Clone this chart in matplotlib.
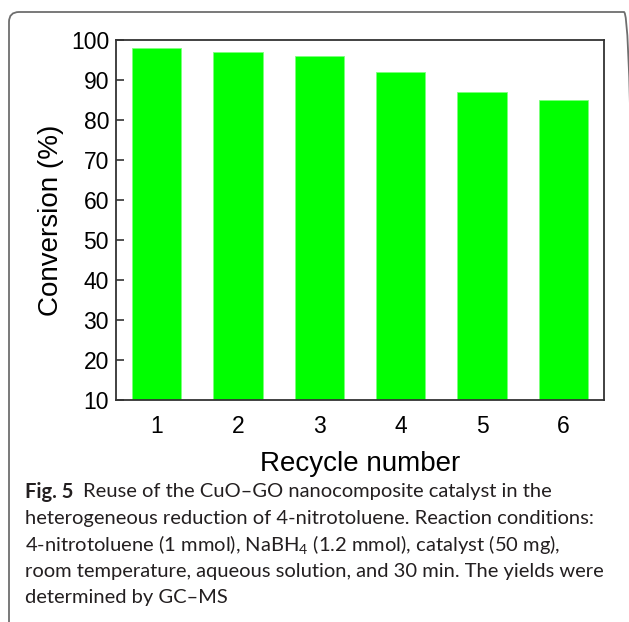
import matplotlib
matplotlib.use("Agg")
import matplotlib.pyplot as plt
from matplotlib.patches import FancyBboxPatch

plt.rcParams['font.family'] = ['Liberation Sans', 'DejaVu Sans']
plt.rcParams['mathtext.fontset'] = 'custom'
plt.rcParams['mathtext.rm'] = 'Lato'
plt.rcParams['mathtext.it'] = 'Lato:italic'

# recycling runs and conversion (%)
runs = [1, 2, 3, 4, 5, 6]
conversion = [98, 97, 96, 92, 87, 85]
yticks = [10, 20, 30, 40, 50, 60, 70, 80, 90, 100]

caption_lines = [
    "Reuse of the CuO\u2013GO nanocomposite catalyst in the",
    "heterogeneous reduction of 4-nitrotoluene. Reaction conditions:",
    "4-nitrotoluene (1 mmol), NaBH$_4$ (1.2 mmol), catalyst (50 mg),",
    "room temperature, aqueous solution, and 30 min. The yields were",
    "determined by GC\u2013MS",
]

W, H = 629, 622
fig = plt.figure(figsize=(W / 100, H / 100), dpi=100)

# rounded frame around figure + caption
frame = FancyBboxPatch((9 / W, -0.1), (W + 5 - 9) / W, 1.1 - 12 / H,
                       boxstyle="round,pad=0,rounding_size=0.016",
                       transform=fig.transFigure, fill=False,
                       edgecolor="#6e6e6e", linewidth=1.3, clip_on=False)
fig.patches.append(frame)

ax = fig.add_axes([116 / W, 1 - 400 / H, (604 - 116) / W, (400 - 40) / H])
ax.bar(runs, conversion, width=0.61, color="#00ff00", edgecolor="#7dff7d", linewidth=0.6)
ax.set_xlim(0.5, 6.5)
ax.set_ylim(10, 100)
ax.set_xticks(runs)
ax.set_yticks(yticks)
ax.tick_params(axis='x', length=0, pad=11, labelsize=16.5)
ax.tick_params(axis='y', direction='in', length=6, width=1.2, color="#333333", pad=5, labelsize=16.5)
for s in ax.spines.values():
    s.set_color("#333333")
    s.set_linewidth(1.3)
ax.set_ylabel("Conversion (%)", fontsize=20, labelpad=5)

fig.text(360 / W, 1 - 464 / H, "Recycle number", fontsize=20, ha='center', va='center')

# caption
cap_x = 25 / W
cap_y0 = 1 - 492 / H
dy = 26.5 / H
fs = 14.5
col = "#231f20"
fig_lbl = fig.text(cap_x, cap_y0, "Fig. 5", fontsize=fs, fontweight='bold',
                   family='Lato', va='center', ha='left', color=col)
fig.canvas.draw()
bb = fig_lbl.get_window_extent()
fig.text(bb.x1 / W + 10 / W, cap_y0, caption_lines[0], fontsize=fs, family='Lato',
         va='center', ha='left', color=col)
for i, line in enumerate(caption_lines[1:], start=1):
    fig.text(cap_x, cap_y0 - i * dy, line, fontsize=fs, family='Lato',
             va='center', ha='left', color=col)

fig.savefig("out.png", dpi=100)
